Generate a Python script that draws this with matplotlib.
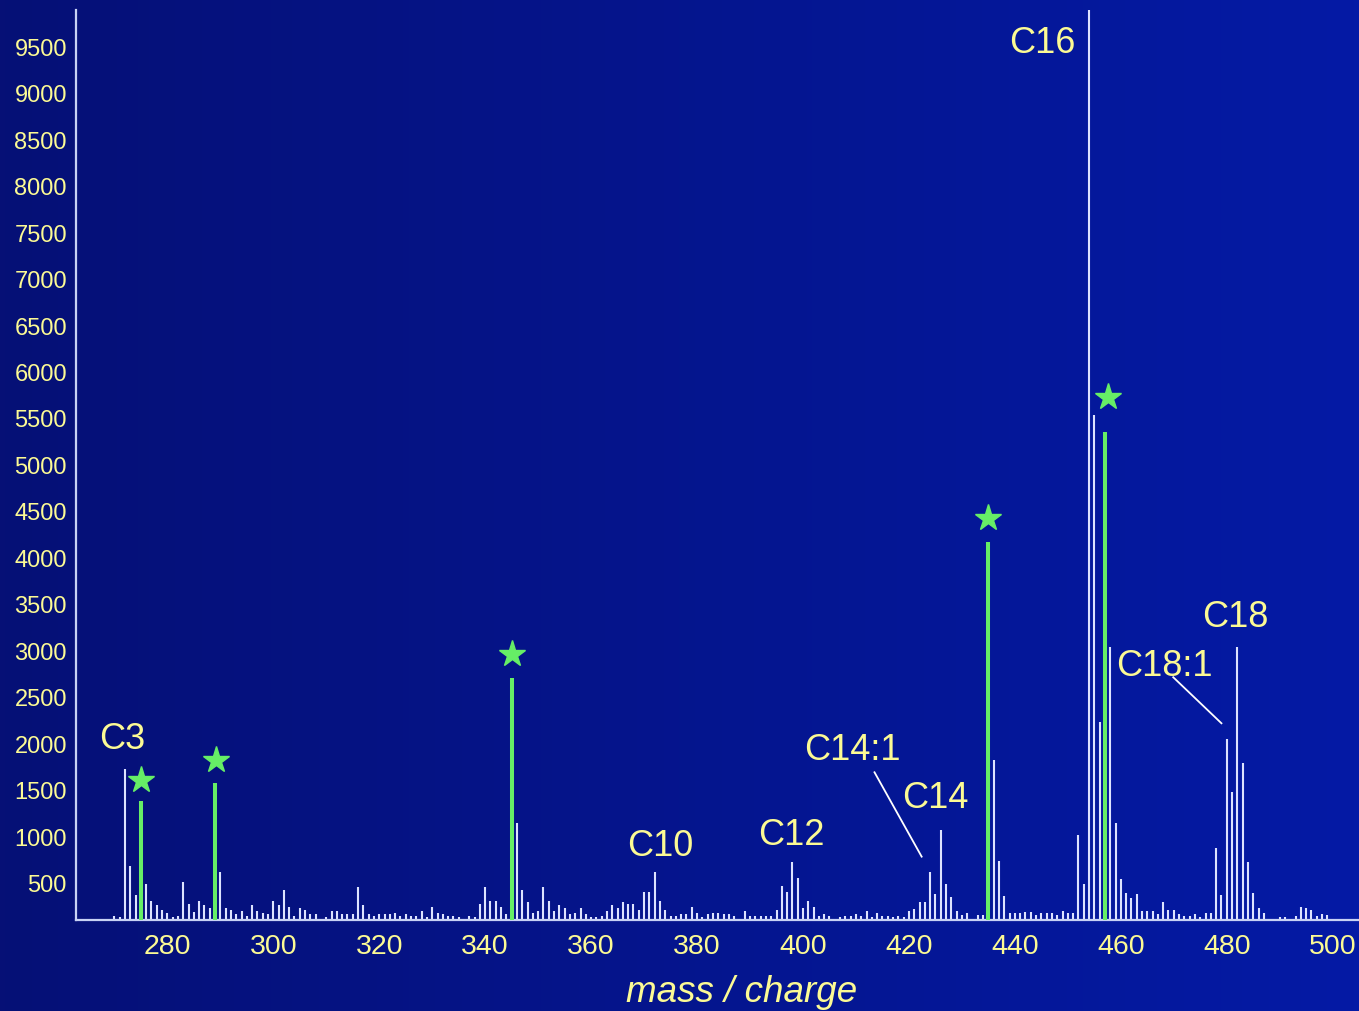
import numpy as np
import matplotlib
matplotlib.use("Agg")
import matplotlib.pyplot as plt
from matplotlib.transforms import offset_copy

# peak list (m/z, intensity)
masses = [270, 271, 272, 273, 274, 276, 277, 278, 279, 280, 281, 282, 283, 284, 285,
          286, 287, 288, 290, 291, 292, 293, 294, 295, 296, 297, 298, 299, 300, 301,
          302, 303, 304, 305, 306, 307, 308, 310, 311, 312, 313, 314, 315, 316, 317,
          318, 319, 320, 321, 322, 323, 324, 325, 326, 327, 328, 329, 330, 331, 332,
          333, 334, 335, 337, 338, 339, 340, 341, 342, 343, 344, 346, 347, 348, 349,
          350, 351, 352, 353, 354, 355, 356, 357, 358, 359, 360, 361, 362, 363, 364,
          365, 366, 367, 368, 369, 370, 371, 372, 373, 374, 375, 376, 377, 378, 379,
          380, 381, 382, 383, 384, 385, 386, 387, 389, 390, 391, 392, 393, 394, 395,
          396, 397, 398, 399, 400, 401, 402, 403, 404, 405, 407, 408, 409, 410, 411,
          412, 413, 414, 415, 416, 417, 418, 419, 420, 421, 422, 423, 424, 425, 426,
          427, 428, 429, 430, 431, 433, 434, 436, 437, 438, 439, 440, 441, 442, 443,
          444, 445, 446, 447, 448, 449, 450, 451, 452, 453, 454, 455, 456, 458, 459,
          460, 461, 462, 463, 464, 465, 466, 467, 468, 469, 470, 471, 472, 473, 474,
          475, 476, 477, 478, 479, 480, 481, 482, 483, 484, 485, 486, 487, 490, 491,
          493, 494, 495, 496, 497, 498, 499]
intensity = [156, 142, 1733, 693, 385, 500, 321, 274, 224, 191, 145, 159, 518, 288, 196,
             321, 274, 242, 629, 242, 224, 181, 210, 159, 274, 210, 191, 177, 321, 274,
             435, 256, 159, 242, 224, 177, 177, 145, 210, 210, 177, 177, 177, 466, 274,
             175, 156, 174, 174, 174, 192, 156, 174, 156, 156, 206, 142, 256, 192, 174,
             156, 156, 142, 156, 142, 285, 465, 321, 321, 256, 174, 1153, 432, 303, 192,
             206, 465, 321, 206, 271, 239, 174, 192, 239, 174, 142, 142, 156, 206, 271,
             239, 303, 288, 288, 220, 417, 417, 626, 321, 220, 160, 160, 174, 174, 256,
             192, 142, 174, 192, 192, 174, 174, 160, 206, 160, 160, 160, 160, 160, 224,
             482, 417, 740, 561, 242, 321, 256, 160, 174, 160, 142, 160, 160, 174, 160,
             206, 142, 192, 160, 160, 142, 160, 145, 210, 228, 305, 305, 630, 390, 1085,
             502, 355, 212, 163, 186, 163, 163, 1835, 746, 374, 186, 186, 186, 201, 201,
             163, 186, 186, 186, 163, 212, 186, 186, 1028, 502, 10500, 5541, 2242, 3049, 1159,
             558, 408, 344, 393, 212, 212, 205, 180, 303, 220, 220, 174, 156, 156, 174,
             142, 188, 188, 884, 382, 2059, 1493, 3051, 1798, 740, 400, 239, 192, 142, 142,
             160, 256, 242, 224, 160, 174, 167]

# highlighted peaks (green, with star)
marked_masses = [275, 289, 345, 435, 457]
marked_intensity = [1395, 1588, 2720, 4177, 5361]

# labels: text, x, baseline y (data units)
labels = [("C3", 271.4, 1955), ("C10", 373.0, 804), ("C12", 397.9, 923),
          ("C14:1", 409.4, 1833), ("C14", 424.9, 1314), ("C16", 445.2, 9432),
          ("C18:1", 468.3, 2737), ("C18", 481.7, 3260)]
leaders = [((413.5, 1701), (422.4, 794)), ((469.9, 2723), (479.0, 2228))]

x_ticks = list(range(280, 501, 20))
y_ticks = list(range(500, 9501, 500))

TEXT = "#fcfa94"
BAR = "#dde3ff"
GREEN = "#66ee66"

plt.rcParams["font.family"] = ["Liberation Sans", "DejaVu Sans"]

fig = plt.figure(figsize=(13.59, 10.11), dpi=100)

# background gradient
bg = fig.add_axes([0, 0, 1, 1])
left = np.array([6, 16, 118]) / 255
right = np.array([4, 26, 165]) / 255
t = np.linspace(0, 1, 256)[None, :, None]
grad = left + (right - left) * t
bg.imshow(grad, aspect="auto", extent=[0, 1, 0, 1])
bg.axis("off")

ax = fig.add_axes([76 / 1359, 91.5 / 1011, 1283 / 1359, 909.5 / 1011])
ax.set_facecolor("none")
ymin = 118
ax.set_xlim(262.75, 504.97)
ax.set_ylim(ymin, 9898)

ax.vlines(masses, ymin, intensity, color=BAR, lw=1.5, zorder=2)
ax.vlines(marked_masses, ymin, marked_intensity, color=GREEN, lw=2.9, zorder=3)

# stars sit a few pixels above each green peak
star_dy = [21, 23, 24, 24, 35]
star_dx = [0, 1, 0, 0, 3]
for m, v, dx, dy in zip(marked_masses, marked_intensity, star_dx, star_dy):
    tr = offset_copy(ax.transData, fig=fig, x=dx, y=dy, units="dots")
    ax.plot([m], [v], marker="*", ms=19.5, color=GREEN, transform=tr,
            linestyle="none", zorder=4, clip_on=False)

for txt, x, y in labels:
    ax.text(x, y, txt, color=TEXT, fontsize=26, ha="center", va="baseline", zorder=5)
for (x1, y1), (x2, y2) in leaders:
    ax.plot([x1, x2], [y1, y2], color="white", lw=1.3, zorder=5)

for s in ["top", "right"]:
    ax.spines[s].set_visible(False)
for s in ["left", "bottom"]:
    ax.spines[s].set_color("#c8d2f5")
    ax.spines[s].set_linewidth(1.6)

ax.set_xticks(x_ticks)
ax.set_yticks(y_ticks)
ax.tick_params(axis="x", length=0, pad=10.8, labelsize=20.5, labelcolor=TEXT)
ax.tick_params(axis="y", length=0, pad=6.5, labelsize=17, labelcolor=TEXT)

fig.text(742 / 1359, 1 - 1001.7 / 1011, "mass / charge", color=TEXT, fontsize=26.5,
         style="italic", ha="center", va="baseline")

fig.savefig("out.png", dpi=100)
